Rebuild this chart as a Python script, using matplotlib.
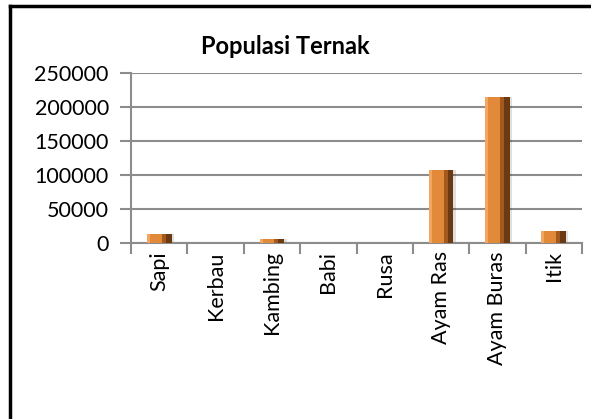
import matplotlib.pyplot as plt
import numpy as np
from matplotlib.lines import Line2D

categories = ["Sapi", "Kerbau", "Kambing", "Babi", "Rusa", "Ayam Ras", "Ayam Buras", "Itik"]
populasi = [13000, 500, 6500, 300, 200, 107000, 215000, 17500]
y_ticks = [0, 50000, 100000, 150000, 200000, 250000]

plt.rcParams["font.family"] = ["Lato", "DejaVu Sans"]

W, H = 591, 419
fig = plt.figure(figsize=(W / 100, H / 100), dpi=100)
ax = fig.add_axes([131 / W, (H - 243) / H, (582 - 131) / W, 170 / H])

x = np.arange(len(categories))
w = 0.44
vals = np.array(populasi)

# shadow, body, dark right face, light left edge
ax.bar(x + 0.04, vals, width=w, color="#000000", alpha=0.12, zorder=2)
ax.bar(x, vals, width=w, color="#E38A3A", zorder=3)
ax.bar(x + w * 0.3, vals, width=w * 0.4, color="#6B3A12", zorder=4)
ax.bar(x + w * 0.18, vals, width=w * 0.16, color="#A35A1E", zorder=4)
ax.bar(x - w * 0.44, vals, width=w * 0.12, color="#F2A661", zorder=4)

ax.set_xlim(-0.5, len(categories) - 0.5)
ax.set_ylim(0, 250000)
ax.set_yticks(y_ticks)
ax.set_yticklabels([str(v) for v in y_ticks], fontsize=15.5)
ax.yaxis.grid(True, color="#8c8c8c", linewidth=1.5, zorder=1)
ax.set_axisbelow(True)

ax.set_xticks(x)
ax.set_xticklabels(categories, rotation=90, fontsize=15.5)
ax.set_xticks(np.arange(len(categories) + 1) - 0.5, minor=True)
ax.tick_params(axis="x", which="major", length=0, pad=6)
ax.tick_params(axis="x", which="minor", length=8, color="#8c8c8c", width=1.5)
ax.tick_params(axis="y", length=8, color="#8c8c8c", width=1.5, pad=8)

for side in ["top", "right"]:
    ax.spines[side].set_visible(False)
for side in ["left", "bottom"]:
    ax.spines[side].set_color("#8c8c8c")
    ax.spines[side].set_linewidth(1.5)

fig.text(285 / W, 1 - 47 / H, "Populasi Ternak", ha="center", va="center",
         fontsize=17, fontweight="bold")

# chart border (left and top edges visible)
fig.add_artist(Line2D([10 / W, 10 / W], [0, 1 - 6 / H], color="black", linewidth=2.5,
                      transform=fig.transFigure))
fig.add_artist(Line2D([10 / W, 1], [1 - 6 / H, 1 - 6 / H], color="black", linewidth=2.5,
                      transform=fig.transFigure))

fig.savefig("out.png", dpi=100, facecolor="white")
